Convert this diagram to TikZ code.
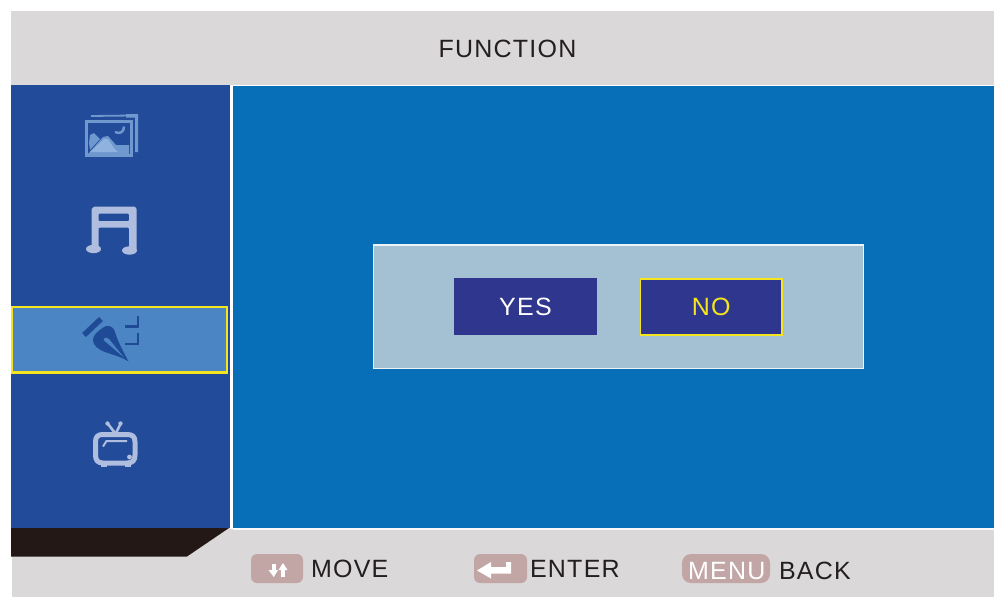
\documentclass[tikz,border=0pt]{standalone}
\usepackage{fontspec}
\setmainfont{Liberation Sans}[LetterSpace=5]
\definecolor{panelgray}{HTML}{DBD8D9}
\definecolor{sideblue}{HTML}{224C9A}
\definecolor{mainblue}{HTML}{066FB8}
\definecolor{darkbar}{HTML}{231815}
\definecolor{selblue}{HTML}{4B85C4}
\definecolor{dialogblue}{HTML}{A4C0D3}
\definecolor{btnblue}{HTML}{2E368E}
\definecolor{hiyellow}{HTML}{F4E51E}
\definecolor{keypink}{HTML}{C2A5A5}
\definecolor{iconlight}{HTML}{AFBDDE}
\definecolor{iconphoto}{HTML}{6F98CF}
\definecolor{iconpale}{HTML}{8FB2DF}
\definecolor{icondark}{HTML}{1F4A96}
\definecolor{inktext}{HTML}{231F20}
\tikzset{
  lbl/.style={anchor=base west,inner sep=0pt,outer sep=0pt,text=inktext,font=\fontsize{25}{25}\selectfont},
  btnbox/.style={fill=btnblue,inner sep=0pt,outer sep=0pt,minimum height=57pt,anchor=north west,font=\fontsize{25}{25}\selectfont},
  tvline/.style={draw=iconlight,line width=5pt,line cap=round,line join=round},
  penmark/.style={draw=icondark,line width=2.6pt},
}
\begin{document}
\begin{tikzpicture}[x=1pt,y=-1pt]
\useasboundingbox (0,0) rectangle (994,597);
\fill[white] (0,0) rectangle (994,597);
% panels
\fill[panelgray] (11,11) rectangle (994,85);
\fill[panelgray] (12,528) rectangle (994,597);
\fill[white!85!panelgray] (233,528) rectangle (994,530);
\fill[sideblue] (11,85) rectangle (230,528);
\fill[white] (230,85) rectangle (233,529);
\fill[mainblue] (233,86) rectangle (994,528);
\fill[darkbar] (11,528) -- (229,528) -- (187,556.5) -- (11,556.5) -- cycle;
% title
\node[lbl] (title) at (438.5,57) {FUNCTION};
% selected row
\draw[fill=selblue,draw=hiyellow,line width=2.4pt] (12.2,307.2) rectangle (227,372.5);
% photo icon
\draw[iconphoto,line width=1.8pt] (91,116) -- (132,115.5);
\fill[iconphoto] (126,114) -- (138,114) -- (138,152) -- (135,152) -- (135,117.5) -- (126,117.5) -- cycle;
\draw[iconphoto,line width=3pt] (86.5,121.5) rectangle (131,155.5);
\fill[iconphoto] (88,154) -- (103,137) -- (108,136) -- (116,145) -- (129,145) -- (129,154) -- cycle;
\fill[iconphoto] (89,143) -- (90,135) -- (94,133) -- (100,139) -- (90,150) -- cycle;
\fill[iconpale] (90,152) -- (104,139) -- (108,139) -- (114,148) -- (118,152) -- cycle;
\draw[iconphoto,line width=2.4pt] (115,132) .. controls (120,134.5) and (124,132) .. (124,126.5);
% music icon
\fill[iconlight,even odd rule] (94,206.5) -- (134,206.5) [rounded corners=1pt] -- (136.5,208) -- (136.5,250) -- (129,250) -- (129,227.5) -- (98.5,227.5) -- (98.5,249) -- (91.5,249) -- (91.5,209) -- cycle
  (98.5,213.5) rectangle (129,221);
\fill[iconlight] (93.5,249) ellipse (7.5pt and 4.2pt);
\fill[iconlight] (129.5,250.5) ellipse (7.5pt and 4.2pt);
% pen icon
\draw[icondark,line width=5.5pt] (84,335) -- (101,319);
\fill[icondark] (106,326) .. controls (111,325.5) and (114,328) .. (115,332)
  .. controls (118,342) and (123,351) .. (128.5,361.5)
  .. controls (122,357) and (116,356) .. (111,354)
  .. controls (104,352) and (96,349) .. (93.5,343)
  .. controls (91.5,338) and (95,332) .. (106,326) -- cycle;
\fill[selblue] (103.5,339) .. controls (105,337) and (107.5,337) .. (109,339) -- (124,357.5) -- (107,343) .. controls (105,342) and (104,340.5) .. (103.5,339) -- cycle;
\draw[penmark] (138,316) -- (138,326.5) -- (125,326.5);
\draw[penmark] (138,333) -- (138,344) -- (125,344);
% tv icon
\draw[tvline] (95.5,442) .. controls (95.5,436.5) and (98,434.5) .. (103,434.5) -- (127,434.5)
  .. controls (132.5,434.5) and (135,436.5) .. (135,442) -- (135,455)
  .. controls (135,460.5) and (132.5,463) .. (127,463) -- (103,463)
  .. controls (98,463) and (95.5,460.5) .. (95.5,455) -- cycle;
\draw[iconlight,line width=2.6pt] (108,424) -- (115,433);
\draw[iconlight,line width=2.6pt] (120.5,424) -- (116,433);
\fill[iconlight] (107.5,423.5) circle (2.2pt);
\fill[iconlight] (120.5,423.5) circle (2.2pt);
\draw[iconlight,line width=2pt] (103,446.5) -- (106.5,441) -- (127,441);
\fill[iconlight] (129.5,457) circle (2.4pt);
\fill[iconlight] (101,464) rectangle (107,466.8);
\fill[iconlight] (125,464) rectangle (131,466.8);
% dialog
\draw[fill=dialogblue,draw=white!80!dialogblue,line width=1.2pt] (373.5,245) rectangle (863.5,368.5);
\node[btnbox,text=white,minimum width=143pt] (yes) at (454,278) {YES};
\node[btnbox,text=hiyellow,draw=hiyellow,line width=1.6pt,minimum width=141.5pt,minimum height=56pt] (no) at (640.5,278.7) {NO};
% bottom keys
\fill[keypink,rounded corners=6pt] (251,554) rectangle (303,583);
\fill[white] (268.5,570) -- (278,570) -- (273.8,577) -- cycle;
\fill[white] (272,564) rectangle (275.5,571);
\fill[white] (278.5,570) -- (287.5,570) -- (283,563) -- cycle;
\fill[white] (281.2,569) rectangle (284.8,576.5);
\node[lbl] (move) at (311,577) {MOVE};
\fill[keypink,rounded corners=6pt] (474,554) rectangle (527,583);
\fill[white] (477,570.5) -- (491,562) -- (491,567) -- (506,567) -- (506,562) -- (511,562) -- (511,573.5) -- (491,573.5) -- (491,578.5) -- cycle;
\node[lbl] (enter) at (530,577) {ENTER};
\fill[keypink,rounded corners=9pt] (682,554) rectangle (770,583);
\node[lbl,text=white] (menu) at (688,579) {MENU};
\node[lbl] (back) at (779,579.5) {BACK};
\end{tikzpicture}
\end{document}
